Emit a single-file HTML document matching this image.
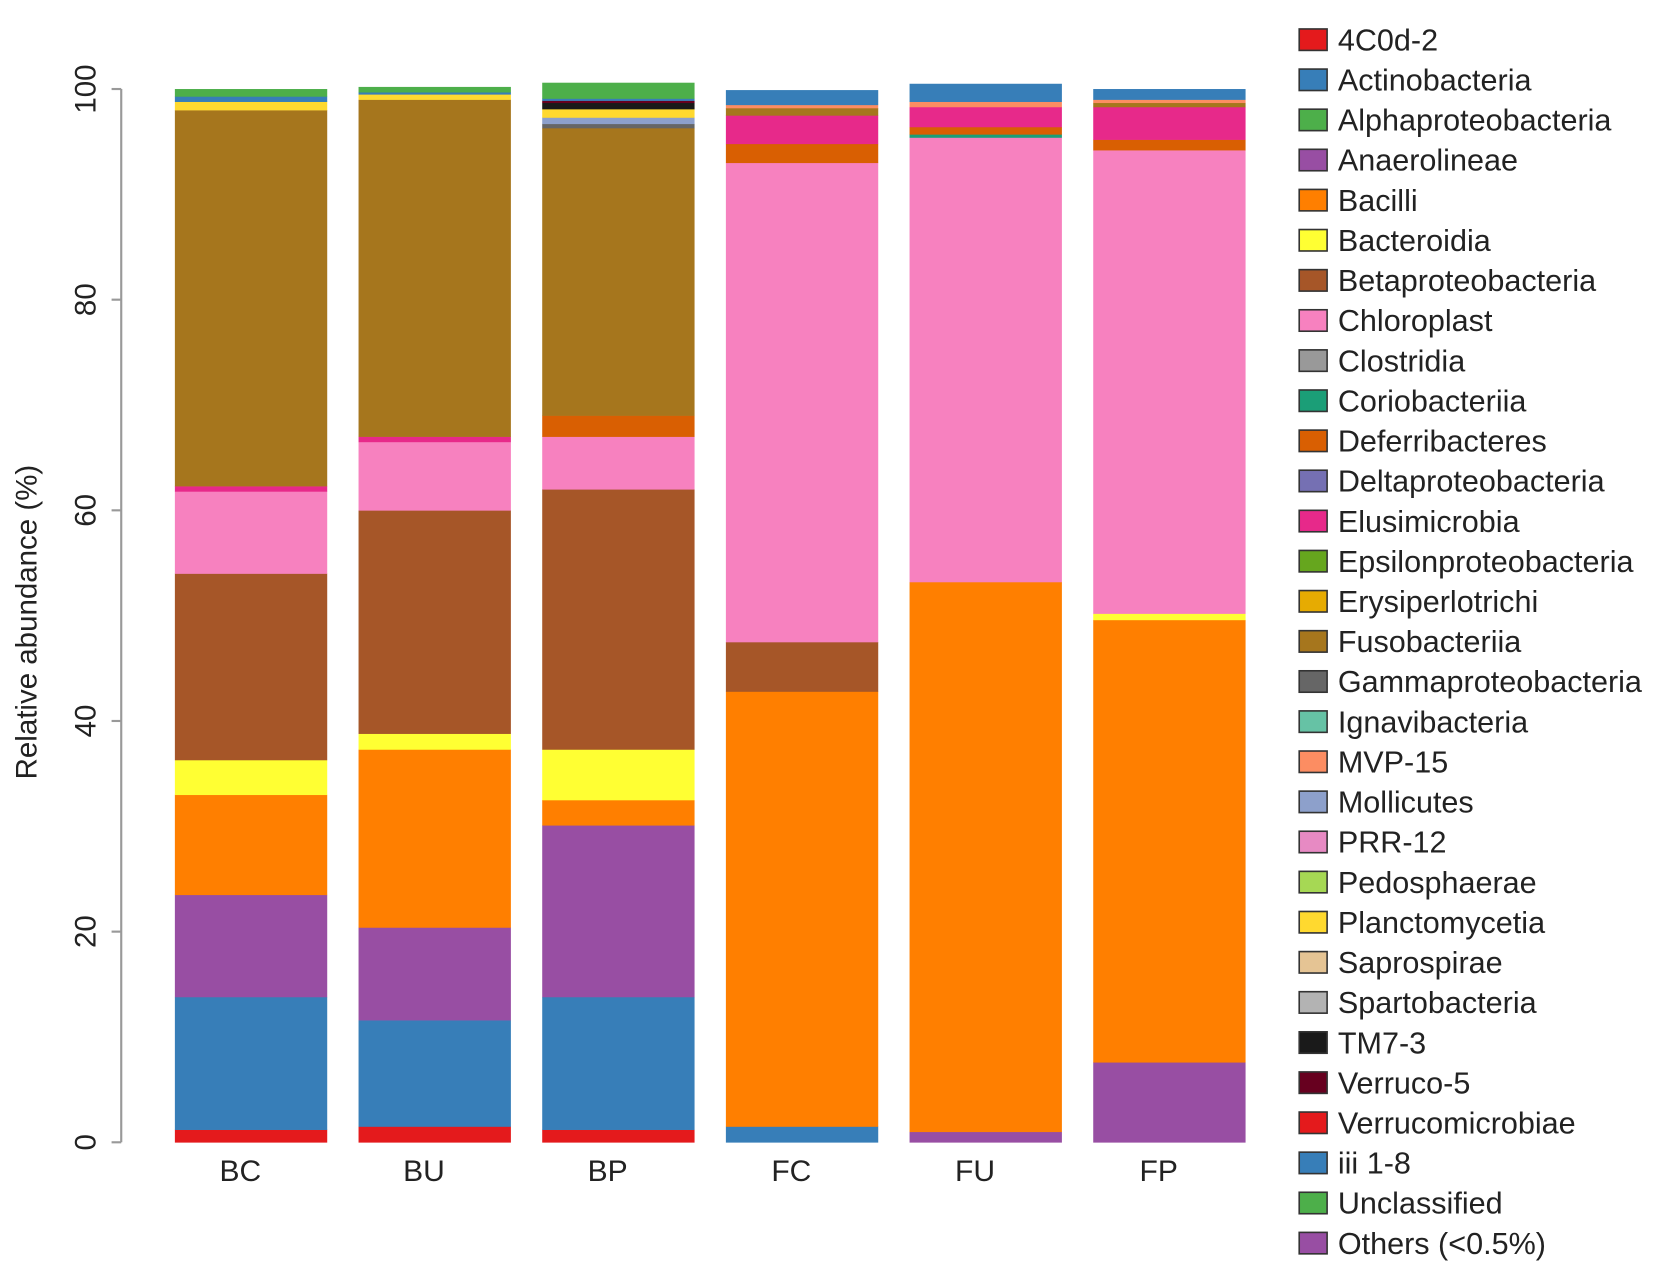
<!DOCTYPE html>
<html><head><meta charset="utf-8"><style>
html,body{margin:0;padding:0;background:#fff;}
svg{display:block;font-family:"Liberation Sans",Arial,sans-serif;}
</style></head><body>
<svg id="chart" width="1679" height="1271" viewBox="0 0 1565 1185" preserveAspectRatio="none" xmlns="http://www.w3.org/2000/svg"></svg>
<script>
const samples = ["BC","BU","BP","FC","FU","FP"];
const legendNames = ["4C0d-2","Actinobacteria","Alphaproteobacteria","Anaerolineae","Bacilli","Bacteroidia","Betaproteobacteria","Chloroplast","Clostridia","Coriobacteriia","Deferribacteres","Deltaproteobacteria","Elusimicrobia","Epsilonproteobacteria","Erysiperlotrichi","Fusobacteriia","Gammaproteobacteria","Ignavibacteria","MVP-15","Mollicutes","PRR-12","Pedosphaerae","Planctomycetia","Saprospirae","Spartobacteria","TM7-3","Verruco-5","Verrucomicrobiae","iii 1-8","Unclassified","Others (<0.5%)"];
const legendColors = ["#e41a1c","#377eb8","#4daf4a","#984ea3","#ff7f00","#ffff33","#a65628","#f781bf","#999999","#1b9e77","#d95f02","#7570b3","#e7298a","#66a61e","#e6ab02","#a6761d","#666666","#66c2a5","#fc8d62","#8da0cb","#e78ac3","#a6d854","#ffd92f","#e5c494","#b3b3b3","#1a1a1a","#67001f","#e41a1c","#377eb8","#4daf4a","#984ea3"];
const stackOrder = ["Verrucomicrobiae","iii 1-8","Others (<0.5%)","Bacilli","Bacteroidia","Betaproteobacteria","Chloroplast","Coriobacteriia","Deferribacteres","Elusimicrobia","Fusobacteriia","Gammaproteobacteria","Mollicutes","MVP-15","Planctomycetia","TM7-3","Verruco-5","Actinobacteria","Unclassified"];
const vVerrucomicrobiae = [1.2,1.5,1.2,0,0,0];
const vIii18 = [12.6,10.1,12.6,1.5,0,0];
const vOthers = [9.7,8.8,16.3,0,1.0,7.6];
const vBacilli = [9.5,16.9,2.4,41.3,52.2,42.0];
const vBacteroidia = [3.3,1.5,4.8,0,0,0.6];
const vBeta = [17.7,21.2,24.7,4.7,0,0];
const vChloroplast = [7.8,6.5,5.0,45.5,42.2,44.0];
const vCorio = [0,0,0,0,0.3,0];
const vDeferri = [0,0,2.0,1.8,0.7,1.0];
const vElusi = [0.5,0.5,0,2.7,1.9,3.1];
const vFuso = [35.7,32.0,27.3,0.7,0,0.4];
const vGamma = [0,0,0.4,0,0,0];
const vMolli = [0,0,0.6,0,0,0];
const vMVP = [0,0,0,0.3,0.5,0.3];
const vPlancto = [0.8,0.5,0.8,0,0,0];
const vTM7 = [0,0,0.6,0,0,0];
const vVerruco5 = [0,0,0.2,0,0,0];
const vActino = [0.5,0.2,0.2,1.4,1.7,1.0];
const vUncl = [0.7,0.5,1.5,0,0,0];
const stackValues = [vVerrucomicrobiae,vIii18,vOthers,vBacilli,vBacteroidia,vBeta,vChloroplast,vCorio,vDeferri,vElusi,vFuso,vGamma,vMolli,vMVP,vPlancto,vTM7,vVerruco5,vActino,vUncl];
const yTicks = [0,20,40,60,80,100];

const NS="http://www.w3.org/2000/svg";
const svg=document.getElementById('chart');
function el(t,a,p){const e=document.createElementNS(NS,t);for(const k in a)e.setAttribute(k,a[k]);(p||svg).appendChild(e);return e;}
const y0=1065, pxPer=9.82;
const yScale=v=>y0-v*pxPer;
const xBand=i=>163+i*171.2;
const bw=142;
function colorOf(n){return legendColors[legendNames.indexOf(n)];}

const axis=el('g',{});


el('line',{x1:113,x2:113,y1:yScale(0),y2:yScale(100),stroke:'#999','stroke-width':2},axis);
yTicks.forEach(t=>{
  const y=yScale(t);
  el('line',{x1:104,x2:113,y1:y,y2:y,stroke:'#999','stroke-width':2},axis);
  const tx=el('text',{x:0,y:0,transform:`translate(89,${y}) rotate(-90)`,'text-anchor':'middle','font-size':27.5,fill:'#222'},axis);
  
  
  tx.textContent=t;
});
const yt=el('text',{transform:'translate(34,580) rotate(-90)','text-anchor':'middle','font-size':27.5,fill:'#222'});


yt.textContent='Relative abundance (%)';

samples.forEach((s,i)=>{
  const g=el('g',{});
  
  
  let cum=0;
  stackOrder.forEach((name,k)=>{
    const v=stackValues[k][i];
    if(v<=0)return;
    const r=el('rect',{x:xBand(i),y:yScale(cum+v),width:bw,height:v*pxPer+0.3,fill:colorOf(name)},g);
    
    
    cum+=v;
  });
  const lbl=el('text',{x:xBand(i)+bw/2-10,y:1101,'text-anchor':'middle','font-size':28,fill:'#222'});
  
  
  lbl.textContent=s;
});

const lg=el('g',{});


legendNames.forEach((n,i)=>{
  const y=37+i*37.4;
  const e=el('g',{},lg);
  
  
  el('rect',{x:1211,y:y-10,width:26,height:20,fill:legendColors[i],stroke:'#333','stroke-width':1.5},e);
  const t=el('text',{x:1247,y:y+10,'font-size':28.5,fill:'#222'},e);
  t.textContent=n;
});
</script>
</body></html>
